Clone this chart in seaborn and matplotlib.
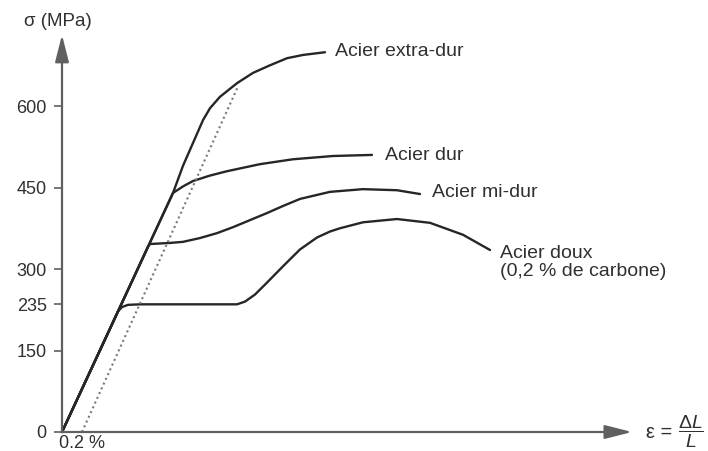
import numpy as np
import pandas as pd
import matplotlib
matplotlib.use("Agg")
import matplotlib.pyplot as plt
import seaborn as sns

# ---- data (strain in %, stress in MPa) ----
doux_eps = [0, 0.48, 0.56, 0.60, 0.66, 0.78, 1.75, 1.83, 1.93, 2.05, 2.21, 2.38, 2.55, 2.68, 2.78, 3.01, 3.35, 3.68, 4.01, 4.28]
doux_sig = [0, 190, 222, 230, 234, 235, 235, 240, 253, 275, 305, 336, 358, 369, 375, 386, 392, 385, 363, 335]

midur_eps = [0, 0.86, 0.88, 1.08, 1.21, 1.38, 1.55, 1.71, 1.88, 2.05, 2.21, 2.38, 2.68, 3.01, 3.35, 3.58]
midur_sig = [0, 341, 346, 348, 350, 357, 366, 377, 390, 403, 416, 429, 442, 447, 445, 438]

dur_eps = [0, 1.11, 1.21, 1.31, 1.48, 1.65, 1.98, 2.31, 2.71, 3.10]
dur_sig = [0, 440, 452, 462, 472, 480, 493, 502, 508, 510]

extra_eps = [0, 1.11, 1.21, 1.31, 1.41, 1.48, 1.58, 1.75, 1.91, 2.08, 2.25, 2.41, 2.63]
extra_sig = [0, 440, 490, 532, 574, 596, 617, 642, 661, 675, 688, 694, 699]

offset_eps = [0.2, 1.76]
offset_sig = [0, 636]

ytick_vals = [0, 150, 235, 300, 450, 600]
xtick_vals = [0.2]
xtick_labels = ["0.2 %"]

names = ["Acier extra-dur", "Acier dur", "Acier mi-dur", "Acier doux\n(0,2 % de carbone)"]
label_pos = [(2.73, 700), (3.23, 509), (3.70, 441), (4.38, 312)]

# ---- build table ----
frames = []
for name, e, s in zip(names, [extra_eps, dur_eps, midur_eps, doux_eps],
                      [extra_sig, dur_sig, midur_sig, doux_sig]):
    frames.append(pd.DataFrame({"eps": e, "sig": s, "acier": name}))
df = pd.concat(frames, ignore_index=True)
df_off = pd.DataFrame({"eps": offset_eps, "sig": offset_sig})

sns.set_theme(style="white")
plt.rcParams["font.family"] = ["Liberation Sans", "DejaVu Sans"]
plt.rcParams["mathtext.fontset"] = "custom"
plt.rcParams["mathtext.rm"] = "Liberation Sans"
plt.rcParams["mathtext.it"] = "Liberation Sans:italic"
plt.rcParams["mathtext.bf"] = "Liberation Sans:bold"

fig = plt.figure(figsize=(7.08, 4.51), dpi=100)
ax = fig.add_axes([0, 0, 1, 1])
ax.set_xlim(-0.62, 6.46)
ax.set_ylim(-19 / 0.5433, 432 / 0.5433)

ink = "#262626"
axis_col = "#606060"
txt = "#303030"

sns.lineplot(data=df, x="eps", y="sig", units="acier", estimator=None, sort=False,
             color=ink, lw=1.7, ax=ax, legend=False,
             solid_joinstyle="round", solid_capstyle="round")
sns.lineplot(data=df_off, x="eps", y="sig", estimator=None, sort=False,
             color="#7a7a7a", lw=1.5, ls=(0, (1.0, 1.5)), ax=ax, legend=False)

# axes with arrows
for sp in ax.spines.values():
    sp.set_visible(False)
ax.spines["left"].set_position(("data", 0))
ax.spines["bottom"].set_position(("data", 0))
arrow = dict(arrowstyle="-|>,head_length=1.1,head_width=0.28", color=axis_col, lw=1.6,
             mutation_scale=15, shrinkA=0, shrinkB=0)
ax.annotate("", xy=(0, 731), xytext=(0, 0), arrowprops=arrow)
ax.annotate("", xy=(5.70, 0), xytext=(0, 0), arrowprops=arrow)

ax.set_yticks(ytick_vals)
ax.set_yticklabels([str(v) for v in ytick_vals])
ax.set_xticks(xtick_vals)
ax.set_xticklabels(xtick_labels)
ax.tick_params(axis="y", direction="out", length=6, width=1.2, color=axis_col,
               labelsize=13, labelcolor=txt, pad=5, left=True)
ax.tick_params(axis="x", length=0, labelsize=13, labelcolor=txt, pad=2)
ax.set_xlabel("")
ax.set_ylabel("")
ax.grid(False)

for name, (x, y) in zip(names, label_pos):
    ax.text(x, y, name, fontsize=14, color=txt, ha="left", va="center",
            linespacing=1.1)

ax.text(-0.04, 755, "σ (MPa)", fontsize=13.5, color=txt, ha="center", va="center")
ax.text(5.84, 0, "ε =", fontsize=14.5, color=txt, ha="left", va="center")
ax.text(6.16, 0, r"$\dfrac{\Delta \mathit{L}}{\mathit{L}}$", fontsize=14, color=txt,
        ha="left", va="center")

fig.savefig("out.png", dpi=100)
